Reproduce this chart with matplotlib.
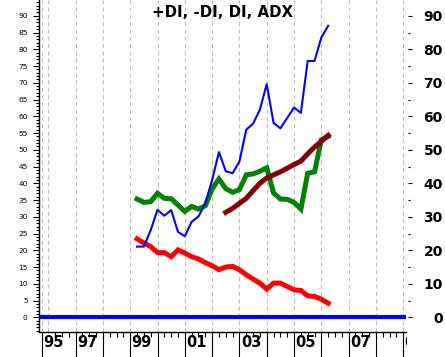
import numpy as np
import matplotlib
matplotlib.use("Agg")
import matplotlib.pyplot as plt
from matplotlib.ticker import MultipleLocator

# quarterly readings, mid 1999 .. early 2006
quarters = np.arange(1999.25, 2006.3, 0.25)

plus_di = [21.1, 21.1, 26.0, 32.1, 30.3, 32.0, 25.5, 24.2, 28.5, 30.1,
           34.0, 41.0, 49.3, 43.6, 43.0, 46.5, 56.0, 57.8, 62.0, 69.6,
           58.0, 56.4, 59.5, 62.6, 61.0, 76.5, 76.5, 83.5, 87.0]
di = [35.3, 34.3, 34.5, 37.0, 35.5, 35.4, 33.5, 31.6, 33.1, 32.3,
      33.3, 38.3, 41.3, 38.4, 37.3, 38.1, 42.5, 42.8, 43.6, 44.6,
      37.1, 35.3, 35.2, 34.3, 32.3, 43.0, 43.4, 53.0, 54.0]
minus_di = [23.4, 22.2, 21.1, 19.3, 19.3, 18.1, 20.1, 19.2, 18.1, 17.4,
            16.3, 15.4, 14.2, 15.0, 15.2, 14.2, 12.7, 11.4, 10.2, 8.4,
            10.2, 10.2, 9.2, 8.2, 8.0, 6.4, 6.2, 5.4, 4.2]
# ADX only starts in mid 2002
adx_start = 13
adx = [31.3, 32.5, 34.0, 35.5, 37.8, 40.0, 41.6, 42.5, 43.4, 44.5,
       45.6, 46.6, 48.8, 50.8, 52.5, 54.3]

year_ticks = [1995.78] + list(range(1997, 2010))
year_labels = ["95", "97", "", "99", "", "01", "", "03", "", "05", "", "07", "", "09"]
grid_years = [1995.78] + list(range(1996, 2010))

W, H = 445, 357
x0, x1 = 1995.66, 2009.10

fig = plt.figure(figsize=(W / 100, H / 100), dpi=100)
ax = fig.add_axes([39 / W, 25.5 / H, 367 / W, 331.5 / H])
ax.set_xlim(x0, x1)
ax.set_ylim(-4.24, 94.7)

for g in grid_years:
    ax.axvline(g, color="#bdbdbd", lw=0.75, ls=(0, (4, 3)), zorder=0)

ax.axhline(0, color="#0000ff", lw=3.0, zorder=2)
ax.plot(quarters, di, color="#008000", lw=3.6, zorder=3, solid_joinstyle="miter")
ax.plot(quarters, minus_di, color="#ff0000", lw=3.6, zorder=3, solid_joinstyle="miter")
ax.plot(quarters[adx_start:], adx, color="#800000", lw=3.6, zorder=3, solid_joinstyle="miter")
ax.plot(quarters, plus_di, color="#0000ff", lw=1.5, zorder=4)

ax.text(0.5, 1 - 12.8 / 331.5, "+DI, -DI, DI, ADX", transform=ax.transAxes,
        ha="center", va="center", fontsize=10.8, fontweight="bold",
        family="DejaVu Sans")

# left axis: small labels every 5, minor ticks every 1
for s in ["top", "right"]:
    ax.spines[s].set_visible(False)
ax.spines["left"].set_linewidth(1.0)
ax.spines["bottom"].set_linewidth(1.0)
ax.set_xticks([])
ax.yaxis.set_major_locator(MultipleLocator(5))
ax.yaxis.set_minor_locator(MultipleLocator(1))
ax.set_yticks(range(0, 95, 5))
ax.tick_params(axis="y", which="major", length=4.2, width=0.8, pad=4.0, labelsize=5.4)
ax.tick_params(axis="y", which="minor", length=2.3, width=0.8)

# right axis: big bold labels every 10
ax_r = ax.twinx()
ax_r.set_ylim(ax.get_ylim())
for s in ax_r.spines.values():
    s.set_visible(False)
ax_r.spines["right"].set_position(("outward", 1.5))
ax_r.set_yticks(range(0, 100, 10))
ax_r.set_yticks(range(5, 90, 10), minor=True)
ax_r.tick_params(axis="y", which="major", length=3, width=0.8, pad=22, labelsize=10)
ax_r.tick_params(axis="y", which="minor", length=1.5, width=0.8)
for lab in ax_r.get_yticklabels():
    lab.set_ha("right")
    lab.set_fontweight("bold")

# bottom band with year labels
axb = fig.add_axes([39 / W, 0, 368 / W, 25.5 / H])
axb.set_xlim(x0, x0 + (x1 - x0) * 368 / 367)
axb.set_ylim(0, 1)
axb.axis("off")
minor = [y + q for y in range(1996, 2010) for q in (0.25, 0.5, 0.75) if y + q < x1]
axb.vlines(minor, 0.8, 1, color="black", lw=0.8)
axb.vlines(year_ticks, 0, 1, color="black", lw=0.8)
for t, lab in zip(year_ticks, year_labels):
    if lab:
        axb.text(t + 0.05, 0.56, lab, ha="left", va="center", fontsize=10.5,
                 fontweight="bold", clip_on=True)

fig.savefig("out.png", dpi=100)
